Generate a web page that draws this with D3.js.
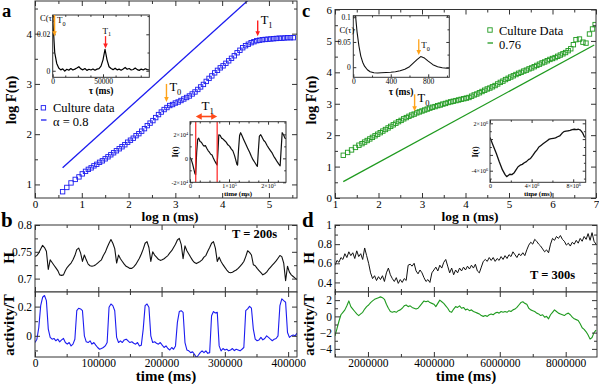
<!DOCTYPE html>
<html>
<head>
<meta charset="utf-8">
<script src="https://cdn.jsdelivr.net/npm/d3@7"></script>
<style>
body { margin: 0; background: #fff; }
svg { display: block; }
</style>
</head>
<body>
<svg width="599" height="384"></svg>
<script>
"use strict";

// ---- panel a: DFA of culture data (log F vs log n) ----
const aLogN = [0.59,0.68,0.77,0.86,0.94,1.01,1.08,1.14,1.20,1.26,1.32,1.38,1.44,1.50,1.56,1.62,1.68,1.74,1.80,1.86,1.92,1.98,2.04,2.10,2.16,2.22,2.28,2.34,2.40,2.46,2.52,2.58,2.64,2.70,2.76,2.82,2.88,2.94,3.00,3.06,3.12,3.18,3.24,3.30,3.36,3.42,3.48,3.54,3.60,3.66,3.72,3.78,3.84,3.90,3.96,4.02,4.08,4.14,4.20,4.26,4.32,4.38,4.44,4.50,4.56,4.62,4.68,4.74,4.80,4.86,4.92,4.98,5.04,5.10,5.16,5.22,5.28,5.34,5.40,5.46,5.52];
const aLogF = [0.855,0.94,1.03,1.10,1.15,1.21,1.26,1.30,1.33,1.37,1.40,1.44,1.47,1.51,1.55,1.59,1.63,1.67,1.71,1.75,1.79,1.84,1.88,1.92,1.97,2.01,2.06,2.11,2.17,2.22,2.27,2.33,2.39,2.44,2.49,2.53,2.57,2.59,2.62,2.64,2.67,2.70,2.73,2.76,2.80,2.84,2.89,2.94,2.99,3.05,3.11,3.16,3.22,3.27,3.32,3.36,3.41,3.46,3.51,3.56,3.62,3.67,3.72,3.76,3.79,3.82,3.84,3.86,3.87,3.88,3.885,3.89,3.895,3.90,3.905,3.91,3.91,3.915,3.92,3.92,3.92];
const aFitN = [0.59, 4.62];
const aFitF = [1.33, 4.72];

// inset a1: autocorrelation C(tau)
const a1TauStep = 2000;
const a1C = [0.029,0.010,0.004,0.0015,0.0005,0.001,-0.0002,0.0008,0.0003,0.0012,0.0004,0.0009,0.0015,0.0022,0.001,0.0005,0.0012,0.0002,0.0008,0.0004,0.001,0.0003,0.0009,0.0012,0.0025,0.006,0.0118,0.006,0.0022,0.0012,0.0006,0.0014,0.0005,0.0009,0.0003,0.001,0.0018,0.0008,0.0012,0.0004,0.0007,0.0015,0.0006,0.0002,0.0009,0.0004,0.0011,0.0006,0.0005];

// inset a2: profile I(t)
const a2T = [0,3300,6800,10200,12800,14500,17100,19700,22300,25700,29100,32600,36000,39400,42900,46300,49700,53200,56600,60000,63500,66900,69500,72000,73800,77200,80700,84100,88400,92700,97000,101300,105600,109900,114200,117700,120200,121900,124500,127100,129700,133100,137400,142500,147700,152800,157100,161400,165700,170000,172600,175200,177800,181200,184700,189000,193200,197500,201800,206100,210400,214700,219000,223300,227600,231000,233600,236200,239700,243100,245700];
const a2I = [870,-1100,-4800,-9500,-12900,-13500,5100,15800,16900,14100,13500,11500,10200,10700,8500,6500,5100,3400,2800,0,-2200,-4200,-5600,7900,19700,19200,16900,16300,14900,13500,11300,10200,7900,6200,2300,-1900,-5000,-5600,7900,19100,21400,19100,15800,12100,8500,5100,1700,-1100,-3300,-5600,-6700,6500,18600,19700,17700,14900,13500,10700,8500,6500,4500,1700,-500,-2800,-4800,-6200,7900,21400,19700,16900,16300];
const a2Marks = [14700, 69600];

// ---- panel b: H and activity, T = 200 s ----
const bStep = 3000;
const bH = [0.741,0.743,0.748,0.755,0.762,0.758,0.751,0.717,0.735,0.730,
0.725,0.720,0.715,0.707,0.706,0.707,0.715,0.721,0.725,0.729,
0.735,0.743,0.754,0.757,0.748,0.732,0.744,0.735,0.727,0.724,
0.723,0.724,0.726,0.729,0.732,0.735,0.743,0.749,0.758,0.766,
0.773,0.766,0.756,0.729,0.744,0.737,0.732,0.727,0.723,0.721,
0.719,0.719,0.722,0.726,0.732,0.738,0.746,0.755,0.766,0.769,
0.758,0.732,0.750,0.744,0.740,0.736,0.734,0.735,0.737,0.740,
0.743,0.748,0.752,0.758,0.764,0.772,0.775,0.764,0.737,0.761,
0.752,0.746,0.740,0.734,0.730,0.728,0.730,0.732,0.735,0.740,
0.743,0.751,0.758,0.766,0.769,0.757,0.732,0.740,0.732,0.726,
0.721,0.716,0.712,0.711,0.712,0.714,0.716,0.719,0.723,0.727,
0.732,0.741,0.752,0.749,0.744,0.726,0.724,0.719,0.715,0.711,
0.707,0.709,0.712,0.717,0.721,0.725,0.729,0.733,0.738,0.743,
0.741,0.729,0.696,0.723,0.712,0.707,0.704,0.701,0.698];
const bAct = [-0.046,-0.023,0.057,0.207,0.264,0.276,0.241,0.046,-0.011,-0.023,
-0.018,-0.034,-0.023,-0.041,-0.028,-0.018,-0.046,-0.057,-0.046,-0.069,
-0.057,-0.023,0.172,0.189,0.184,0.172,0.000,-0.041,-0.046,-0.034,
-0.057,-0.046,-0.064,-0.080,-0.092,-0.087,-0.080,-0.069,-0.046,0.195,
0.218,0.207,0.172,-0.011,-0.046,-0.034,-0.046,-0.028,-0.023,-0.034,
-0.046,-0.041,-0.051,-0.057,-0.046,-0.069,-0.064,0.046,0.207,0.218,
0.195,0.000,-0.046,-0.041,-0.051,-0.057,-0.046,-0.064,-0.080,-0.069,
-0.087,-0.097,-0.080,-0.092,-0.069,0.092,0.166,0.172,0.161,-0.046,
-0.097,-0.103,-0.115,-0.110,-0.126,-0.149,-0.133,-0.115,-0.103,-0.115,
-0.103,-0.120,-0.115,0.138,0.166,0.156,0.161,-0.069,-0.103,-0.087,
-0.097,-0.092,-0.103,-0.097,-0.087,-0.101,-0.092,-0.097,-0.103,-0.092,
-0.080,0.172,0.184,0.202,0.189,0.046,-0.023,-0.034,-0.028,-0.011,
-0.028,-0.018,0.000,-0.011,-0.023,-0.034,-0.023,-0.018,0.000,0.207,
0.253,0.241,0.230,0.023,-0.011,0.000,0.005,0.000,0.018];

// ---- panel c: DFA, second culture ----
const cLogN = [1.19,1.29,1.38,1.47,1.55,1.62,1.68,1.74,1.80,1.86,1.92,1.98,2.04,2.10,2.16,2.22,2.28,2.34,2.40,2.46,2.52,2.58,2.64,2.70,2.76,2.82,2.88,2.94,3.00,3.06,3.12,3.18,3.24,3.30,3.36,3.42,3.48,3.54,3.60,3.66,3.72,3.78,3.84,3.90,3.96,4.02,4.08,4.14,4.20,4.26,4.32,4.38,4.44,4.50,4.56,4.62,4.68,4.74,4.80,4.86,4.92,4.98,5.04,5.10,5.16,5.22,5.28,5.34,5.40,5.46,5.52,5.58,5.64,5.70,5.76,5.82,5.88,5.94,6.00,6.06,6.12,6.18,6.24,6.30,6.36,6.42,6.48,6.54,6.62,6.70,6.77,6.85,6.92,6.98];
const cLogF = [1.36,1.45,1.53,1.61,1.68,1.73,1.78,1.83,1.88,1.93,1.98,2.03,2.08,2.13,2.18,2.23,2.28,2.33,2.38,2.43,2.47,2.52,2.56,2.60,2.64,2.67,2.71,2.74,2.77,2.80,2.83,2.86,2.89,2.91,2.94,2.96,2.99,3.01,3.04,3.06,3.08,3.10,3.12,3.14,3.16,3.18,3.20,3.24,3.28,3.31,3.35,3.39,3.43,3.47,3.50,3.54,3.58,3.63,3.68,3.72,3.77,3.81,3.85,3.89,3.93,3.97,4.00,4.04,4.07,4.11,4.14,4.18,4.22,4.26,4.30,4.33,4.37,4.41,4.44,4.47,4.51,4.55,4.59,4.63,4.69,4.75,4.88,5.04,5.06,4.96,4.93,5.22,5.38,5.52];
const cFitN = [1.19, 6.96];
const cFitF = [0.52, 4.87];

// inset c1: C(tau)
const c1Tau = [0,20,40,60,80,100,120,150,180,220,260,300,350,400,450,500,550,600,640,680,720,760,800,850,900,950,1000,1025];
const c1C = [0.16,0.11,0.07,0.042,0.022,0.010,0.002,-0.005,-0.009,-0.011,-0.0115,-0.011,-0.0105,-0.010,-0.009,-0.007,-0.004,0.001,0.008,0.015,0.021,0.018,0.012,0.005,0.001,-0.001,-0.002,-0.002];

// inset c2: profile I(t)
const c2T = [0,0.3e6,0.6e6,0.9e6,1.2e6,1.45e6,1.6e6,1.75e6,1.9e6,2.1e6,2.3e6,2.5e6,2.7e6,2.9e6,3.1e6,3.3e6,3.5e6,3.7e6,3.9e6,4.1e6,4.3e6,4.5e6,4.7e6,4.9e6,5.1e6,5.3e6,5.5e6,5.7e6,5.9e6,6.1e6,6.3e6,6.5e6,6.7e6,6.9e6,7.1e6,7.3e6,7.5e6,7.7e6,7.9e6,8.1e6,8.3e6,8.5e6,8.7e6,8.9e6,9.1e6];
const c2I = [0.2e6,-0.8e6,-1.8e6,-2.9e6,-3.9e6,-4.5e6,-4.75e6,-4.6e6,-4.45e6,-4.5e6,-4.3e6,-3.9e6,-3.5e6,-3.3e6,-3.2e6,-3.0e6,-2.85e6,-2.6e6,-2.45e6,-2.1e6,-1.7e6,-1.4e6,-1.0e6,-0.8e6,-0.6e6,-0.4e6,-0.2e6,0,0.05e6,0.1e6,0.15e6,0.3e6,0.4e6,0.7e6,0.95e6,1.0e6,1.05e6,1.1e6,1.2e6,1.25e6,1.2e6,1.25e6,1.15e6,0.8e6,0.2e6];

// ---- panel d: H and activity, T = 300 s ----
const dStart = 1000000, dStep = 60000;
const dH = [0.58,0.63,0.61,0.66,0.64,0.70,0.66,0.72,0.68,0.71,
0.65,0.73,0.67,0.70,0.64,0.76,0.68,0.60,0.50,0.44,
0.47,0.42,0.46,0.43,0.47,0.41,0.50,0.55,0.48,0.44,
0.41,0.45,0.39,0.43,0.40,0.44,0.42,0.58,0.59,0.57,
0.60,0.52,0.49,0.53,0.50,0.45,0.41,0.43,0.40,0.50,
0.53,0.56,0.52,0.58,0.55,0.61,0.64,0.57,0.50,0.55,
0.48,0.53,0.50,0.55,0.52,0.56,0.53,0.57,0.54,0.58,
0.55,0.59,0.52,0.50,0.56,0.62,0.64,0.62,0.66,0.63,
0.66,0.62,0.65,0.63,0.67,0.64,0.68,0.65,0.69,0.67,
0.72,0.69,0.66,0.70,0.68,0.71,0.68,0.74,0.79,0.82,
0.80,0.85,0.83,0.80,0.78,0.75,0.72,0.74,0.71,0.80,
0.86,0.84,0.88,0.86,0.89,0.85,0.83,0.79,0.81,0.78,
0.82,0.80,0.84,0.81,0.86,0.83,0.88,0.85,0.91,0.84,
0.92,0.83,0.80];
const dAct = [-2.4,-1.5,-0.6,0.2,0.5,0.8,1.3,1.9,1.2,0.9,
0.6,0.3,0.1,0.3,0.5,0.9,1.2,1.4,1.7,1.9,
2.1,2.2,2.3,2.4,2.3,2.1,1.5,1.0,0.6,0.5,
0.6,0.5,0.7,0.8,1.0,1.3,1.4,1.2,1.3,1.1,
1.0,0.9,1.0,1.3,1.6,1.9,1.8,1.9,1.7,1.6,
1.5,1.2,1.6,2.0,1.8,1.6,1.3,1.0,0.6,0.5,
0.9,1.2,1.1,1.3,1.0,1.1,0.8,0.9,0.7,0.8,
0.6,0.5,0.4,0.3,0.1,0.0,0.1,0.0,0.2,0.3,
0.2,0.4,0.5,0.4,0.6,0.5,0.6,0.5,0.7,0.6,
0.8,0.9,1.1,1.4,1.7,1.8,1.6,1.5,1.0,0.8,
0.7,0.6,0.4,0.3,0.1,0.2,-0.1,0.0,-0.3,0.2,
0.5,0.8,0.6,0.4,0.3,0.2,0.1,0.3,0.4,0.2,
-0.1,-0.3,-0.4,-0.5,-0.9,-1.4,-1.6,-1.9,-2.3,-2.8,
-2.6,-2.0,-1.7];

const FONT = "Liberation Serif, Times New Roman, serif";
const BLUE = "#1c1cf0", GREEN = "#1f9a1f", ORANGE = "#ffa31a", RED = "#ff2020";
const svg = d3.select("svg").attr("font-family", FONT);
const defs = svg.append("defs");
let clipCount = 0;

function makePanel(box, xDom, yDom) {
    const x = d3.scaleLinear().domain(xDom).range([box.l, box.r]);
    const y = d3.scaleLinear().domain(yDom).range([box.b, box.t]);
    const g = svg.append("g");
    g.append("rect")
        .attr("x", box.l).attr("y", box.t)
        .attr("width", box.r - box.l).attr("height", box.b - box.t)
        .attr("fill", "#fff");
    const id = "clip" + (clipCount++);
    defs.append("clipPath").attr("id", id).append("rect")
        .attr("x", box.l).attr("y", box.t)
        .attr("width", box.r - box.l).attr("height", box.b - box.t);
    const plot = g.append("g").attr("clip-path", `url(#${id})`);
    return {x, y, g, plot, box};
}

// turn "2x10^4" into text with a superscript
function supText(sel) {
    sel.selectAll("text").each(function () {
        const s = d3.select(this), t = s.text();
        if (t.indexOf("^") < 0) return;
        const parts = t.split("^");
        s.text(parts[0]);
        s.append("tspan").attr("dy", "-0.45em").attr("font-size", "70%").text(parts[1]);
    });
}

function addAxes(p, o) {
    const {x, y, g, box} = p;
    const big = o.tick, small = o.tick * 0.6;
    const none = () => "";
    function side(axisFn, scale, pos, values, size, fmt, pad) {
        const ag = g.append("g").attr("transform", pos)
            .call(axisFn(scale).tickValues(values).tickSize(-size).tickPadding(pad).tickFormat(fmt));
        ag.select(".domain").remove();
        ag.attr("font-family", FONT).attr("font-size", o.fontSize);
        ag.selectAll("line").attr("stroke", "#333");
        ag.selectAll("text").attr("fill", "#000");
        supText(ag);
    }
    const bx = `translate(0,${box.b})`, tx = `translate(0,${box.t})`;
    const lx = `translate(${box.l},0)`, rx = `translate(${box.r},0)`;
    side(d3.axisBottom, x, bx, o.xMajor, big, o.xFmt || none, o.pad);
    side(d3.axisBottom, x, bx, o.xMinor, small, none, 0);
    side(d3.axisTop, x, tx, o.xMajor, big, none, 0);
    side(d3.axisTop, x, tx, o.xMinor, small, none, 0);
    side(d3.axisLeft, y, lx, o.yMajor, big, o.yFmt || none, o.pad + 1);
    side(d3.axisLeft, y, lx, o.yMinor, small, none, 0);
    side(d3.axisRight, y, rx, o.yMajor, big, none, 0);
    side(d3.axisRight, y, rx, o.yMinor, small, none, 0);
    g.append("rect")
        .attr("x", box.l).attr("y", box.t)
        .attr("width", box.r - box.l).attr("height", box.b - box.t)
        .attr("fill", "none").attr("stroke", "#333").attr("stroke-width", 1);
}

function drawLine(p, xs, ys, color, width) {
    const line = d3.line().x(d => p.x(d[0])).y(d => p.y(d[1]));
    p.plot.append("path").datum(d3.zip(xs, ys))
        .attr("d", line).attr("fill", "none")
        .attr("stroke", color).attr("stroke-width", width)
        .attr("stroke-linejoin", "round");
}

function drawSquares(p, xs, ys, color) {
    const s = 4.4;
    p.plot.append("g").selectAll("rect").data(d3.zip(xs, ys)).join("rect")
        .attr("x", d => p.x(d[0]) - s / 2).attr("y", d => p.y(d[1]) - s / 2)
        .attr("width", s).attr("height", s)
        .attr("fill", "none").attr("stroke", color).attr("stroke-width", 0.9);
}

function text(x, y, str, size, opt) {
    opt = opt || {};
    const t = svg.append("text").attr("x", x).attr("y", y)
        .attr("font-size", size).attr("font-family", FONT)
        .attr("font-weight", opt.bold ? "bold" : "normal")
        .attr("text-anchor", opt.anchor || "start")
        .attr("fill", opt.color || "#000").text(str);
    if (opt.rotate) t.attr("transform", `rotate(-90,${x},${y})`);
    return t;
}

function tLabel(x, y, sub, size) {
    const t = text(x, y, "T", size);
    t.append("tspan").attr("dy", size * 0.28).attr("font-size", size * 0.68).text(sub);
}

function arrowDown(x, y1, y2, color, w) {
    const head = 5;
    svg.append("line").attr("x1", x).attr("x2", x).attr("y1", y1).attr("y2", y2 - head + 1)
        .attr("stroke", color).attr("stroke-width", w);
    svg.append("path").attr("d", `M${x - 2.3},${y2 - head}L${x + 2.3},${y2 - head}L${x},${y2}Z`)
        .attr("fill", color);
}

// ================= panel a =================
const pa = makePanel({l: 35, r: 297, t: 1, b: 198}, [0, 5.6], [0.73, 4.65]);
drawLine(pa, aFitN, aFitF, BLUE, 1.3);
drawSquares(pa, aLogN, aLogF, BLUE);
addAxes(pa, {tick: 5, fontSize: 11, pad: 2,
    xMajor: d3.range(0, 6, 1), xMinor: d3.range(0.5, 5.6, 1), xFmt: d3.format("d"),
    yMajor: [1, 2, 3, 4], yMinor: [1.5, 2.5, 3.5, 4.5], yFmt: d3.format("d")});
text(16, 100, "log F(n)", 14.5, {bold: true, anchor: "middle", rotate: true});
text(170, 221, "log n (ms)", 13.5, {bold: true, anchor: "middle"});
text(2, 16.5, "a", 18.5, {bold: true});

// legend a
svg.append("rect").attr("x", 41.2).attr("y", 105.6).attr("width", 4.4).attr("height", 4.4)
    .attr("fill", "none").attr("stroke", BLUE).attr("stroke-width", 0.9);
text(53, 112, "Culture data", 12.5);
svg.append("line").attr("x1", 41).attr("x2", 46.5).attr("y1", 120).attr("y2", 120)
    .attr("stroke", BLUE).attr("stroke-width", 1.3);
text(53, 126, "α = 0.8", 12.5);

// T0 / T1 markers on the main curve
arrowDown(pa.x(2.81), pa.y(3.0), pa.y(2.64), ORANGE, 1.4);
tLabel(pa.x(2.81) + 3, 91, "0", 12.5);
arrowDown(pa.x(4.76), pa.y(4.26), pa.y(3.95), RED, 1.4);
tLabel(pa.x(4.76) + 3, 24, "1", 12.5);

// inset a1
const pa1 = makePanel({l: 52.7, r: 149.3, t: 15, b: 77.3}, [0, 96000], [-0.0036, 0.0306]);
drawLine(pa1, a1C.map((d, i) => i * a1TauStep), a1C, "#000", 1.2);
addAxes(pa1, {tick: 3, fontSize: 7.5, pad: 1.5,
    xMajor: [0, 50000], xMinor: [12500, 25000, 37500, 62500, 75000, 87500], xFmt: d3.format("d"),
    yMajor: [0, 0.02], yMinor: [0.01, 0.03], yFmt: d3.format("")});
text(101, 94, "τ (ms)", 9.5, {bold: true, anchor: "middle"});
text(40, 20.5, "C(τ)", 8.5);
arrowDown(pa1.x(1800), pa1.y(0.0306), pa1.y(0.019), ORANGE, 1.5);
tLabel(57, 23, "0", 9);
arrowDown(pa1.x(52500), pa1.y(0.019), pa1.y(0.0122), RED, 1.3);
tLabel(102.5, 33.5, "1", 9);

// inset a2
const pa2 = makePanel({l: 190, r: 286, t: 121.7, b: 182.3}, [0, 246000], [-20000, 30600]);
drawLine(pa2, a2T, a2I, "#111", 1.2);
pa2.plot.selectAll("line.mark").data(a2Marks).join("line")
    .attr("x1", d => pa2.x(d)).attr("x2", d => pa2.x(d))
    .attr("y1", pa2.box.t).attr("y2", pa2.box.b)
    .attr("stroke", RED).attr("stroke-width", 1.2);
addAxes(pa2, {tick: 3, fontSize: 6, pad: 1,
    xMajor: [0, 100000, 200000], xMinor: [25000, 50000, 75000, 125000, 150000, 175000, 225000],
    xFmt: d => d === 0 ? "0" : (d / 100000) + "×10^5",
    yMajor: [-20000, 0, 20000], yMinor: [-10000, 10000, 30000],
    yFmt: d => d === 0 ? "0" : (d / 10000) + "×10^4"});
text(238, 196, "time (ms)", 7, {bold: true, anchor: "middle"});
text(178, 152, "I(t)", 8, {bold: true, anchor: "middle", rotate: true});
// T1 period arrow
{
    const x1 = pa2.x(a2Marks[0]), x2 = pa2.x(a2Marks[1]), yy = 116.5;
    svg.append("line").attr("x1", x1 + 4).attr("x2", x2 - 4).attr("y1", yy).attr("y2", yy)
        .attr("stroke", "#ff4a1a").attr("stroke-width", 1.6);
    svg.append("path").attr("d", `M${x1},${yy}L${x1 + 6},${yy - 3.3}L${x1 + 6},${yy + 3.3}Z`).attr("fill", "#ff4a1a");
    svg.append("path").attr("d", `M${x2},${yy}L${x2 - 6},${yy - 3.3}L${x2 - 6},${yy + 3.3}Z`).attr("fill", "#ff4a1a");
    tLabel((x1 + x2) / 2 - 5, 110, "1", 13);
}

// ================= panel b =================
const bTime = bH.map((d, i) => i * bStep);
const pbH = makePanel({l: 35, r: 297, t: 225, b: 292}, [0, 414000], [0.675, 0.8]);
drawLine(pbH, bTime, bH, "#111", 1.1);
addAxes(pbH, {tick: 5, fontSize: 11.5, pad: 2,
    xMajor: d3.range(0, 414000, 100000), xMinor: d3.range(50000, 414000, 100000),
    yMajor: [0.7, 0.75, 0.8], yMinor: [0.725, 0.775], yFmt: d3.format("")});
const pbA = makePanel({l: 35, r: 297, t: 292, b: 357}, [0, 414000], [-0.145, 0.3]);
drawLine(pbA, bTime, bAct, BLUE, 1.1);
addAxes(pbA, {tick: 5, fontSize: 11.5, pad: 2,
    xMajor: d3.range(0, 414000, 100000), xMinor: d3.range(50000, 414000, 100000), xFmt: d3.format("d"),
    yMajor: [0, 0.2], yMinor: [-0.1, 0.1], yFmt: d3.format("")});
text(14, 258, "H", 15, {bold: true, anchor: "middle", rotate: true});
text(14, 325, "activity/T", 15, {bold: true, anchor: "middle", rotate: true});
text(166, 381, "time (ms)", 15, {bold: true, anchor: "middle"});
text(232, 238, "T = 200s", 12.5, {bold: true});
text(1, 227, "b", 21, {bold: true});

// ================= panel c =================
const pc = makePanel({l: 335, r: 596, t: 9.5, b: 198}, [1, 7], [0, 6]);
drawLine(pc, cFitN, cFitF, GREEN, 1.3);
drawSquares(pc, cLogN, cLogF, GREEN);
addAxes(pc, {tick: 5, fontSize: 11, pad: 2,
    xMajor: d3.range(1, 8, 1), xMinor: d3.range(1.5, 7, 1), xFmt: d3.format("d"),
    yMajor: d3.range(0, 7, 1), yMinor: d3.range(0.5, 6, 1), yFmt: d3.format("d")});
text(316, 100, "log F(n)", 14.5, {bold: true, anchor: "middle", rotate: true});
text(470, 221, "log n (ms)", 13.5, {bold: true, anchor: "middle"});
text(302, 16.5, "c", 18.5, {bold: true});

// legend c
svg.append("rect").attr("x", 487.8).attr("y", 27.8).attr("width", 4.4).attr("height", 4.4)
    .attr("fill", "none").attr("stroke", GREEN).attr("stroke-width", 0.9);
text(499, 34.5, "Culture Data", 12.5);
svg.append("line").attr("x1", 487.5).attr("x2", 493).attr("y1", 43).attr("y2", 43)
    .attr("stroke", GREEN).attr("stroke-width", 1.3);
text(499, 49, "0.76", 12.5);

arrowDown(pc.x(2.83), pc.y(3.30), pc.y(2.76), ORANGE, 1.4);
tLabel(pc.x(2.83) + 3, 102, "0", 12.5);

// inset c1
const pc1 = makePanel({l: 353.3, r: 449.3, t: 15.7, b: 77.3}, [0, 1025], [-0.02, 0.102]);
drawLine(pc1, c1Tau, c1C, "#111", 1.1);
addAxes(pc1, {tick: 3, fontSize: 7.5, pad: 1.5,
    xMajor: [0, 400, 800], xMinor: [200, 600, 1000], xFmt: d3.format("d"),
    yMajor: [0, 0.05, 0.1], yMinor: [0.025, 0.075], yFmt: d3.format("")});
text(401, 94.5, "τ (ms)", 9.5, {bold: true, anchor: "middle"});
text(339.5, 32.5, "C(τ)", 8.5);
arrowDown(pc1.x(699), pc1.y(0.0556), pc1.y(0.024), ORANGE, 1.3);
tLabel(pc1.x(699) + 2.5, 48, "0", 9);

// inset c2
const pc2 = makePanel({l: 490, r: 585.7, t: 120, b: 182.3}, [0, 9.2e6], [-5.47e6, 2.42e6]);
drawLine(pc2, c2T, c2I, "#111", 1.3);
addAxes(pc2, {tick: 3, fontSize: 6, pad: 1,
    xMajor: [0, 4e6, 8e6], xMinor: [2e6, 6e6],
    xFmt: d => d === 0 ? "0" : (d / 1e6) + "×10^6",
    yMajor: [-4e6, -2e6, 0, 2e6], yMinor: [-5e6, -3e6, -1e6, 1e6],
    yFmt: d => (d === 2e6 || d === -4e6) ? (d / 1e6) + "×10^6" : ""});
text(538, 196, "time (ms)", 7, {bold: true, anchor: "middle"});
text(478, 152, "I(t)", 8, {bold: true, anchor: "middle", rotate: true});

// ================= panel d =================
const dTime = dH.map((d, i) => dStart + i * dStep);
const pdH = makePanel({l: 335, r: 597, t: 225, b: 292}, [1e6, 8.95e6], [0.3, 1.0]);
drawLine(pdH, dTime, dH, "#111", 1.0);
addAxes(pdH, {tick: 5, fontSize: 11.5, pad: 2,
    xMajor: [2e6, 4e6, 6e6, 8e6], xMinor: [1e6, 3e6, 5e6, 7e6],
    yMajor: [0.4, 0.6, 0.8, 1], yMinor: [0.5, 0.7, 0.9], yFmt: d3.format("")});
const pdA = makePanel({l: 335, r: 597, t: 292, b: 357}, [1e6, 8.95e6], [-5, 3]);
drawLine(pdA, dTime, dAct, GREEN, 1.1);
addAxes(pdA, {tick: 5, fontSize: 11.5, pad: 2,
    xMajor: [2e6, 4e6, 6e6, 8e6], xMinor: [1e6, 3e6, 5e6, 7e6], xFmt: d3.format("d"),
    yMajor: [-4, -2, 0, 2], yMinor: [-3, -1, 1], yFmt: d3.format("d")});
text(314, 258, "H", 15, {bold: true, anchor: "middle", rotate: true});
text(314, 325, "activity/T", 15, {bold: true, anchor: "middle", rotate: true});
text(466, 381, "time (ms)", 15, {bold: true, anchor: "middle"});
text(530, 279, "T = 300s", 12.5, {bold: true});
text(302, 227, "d", 21, {bold: true});
</script>
</body>
</html>
